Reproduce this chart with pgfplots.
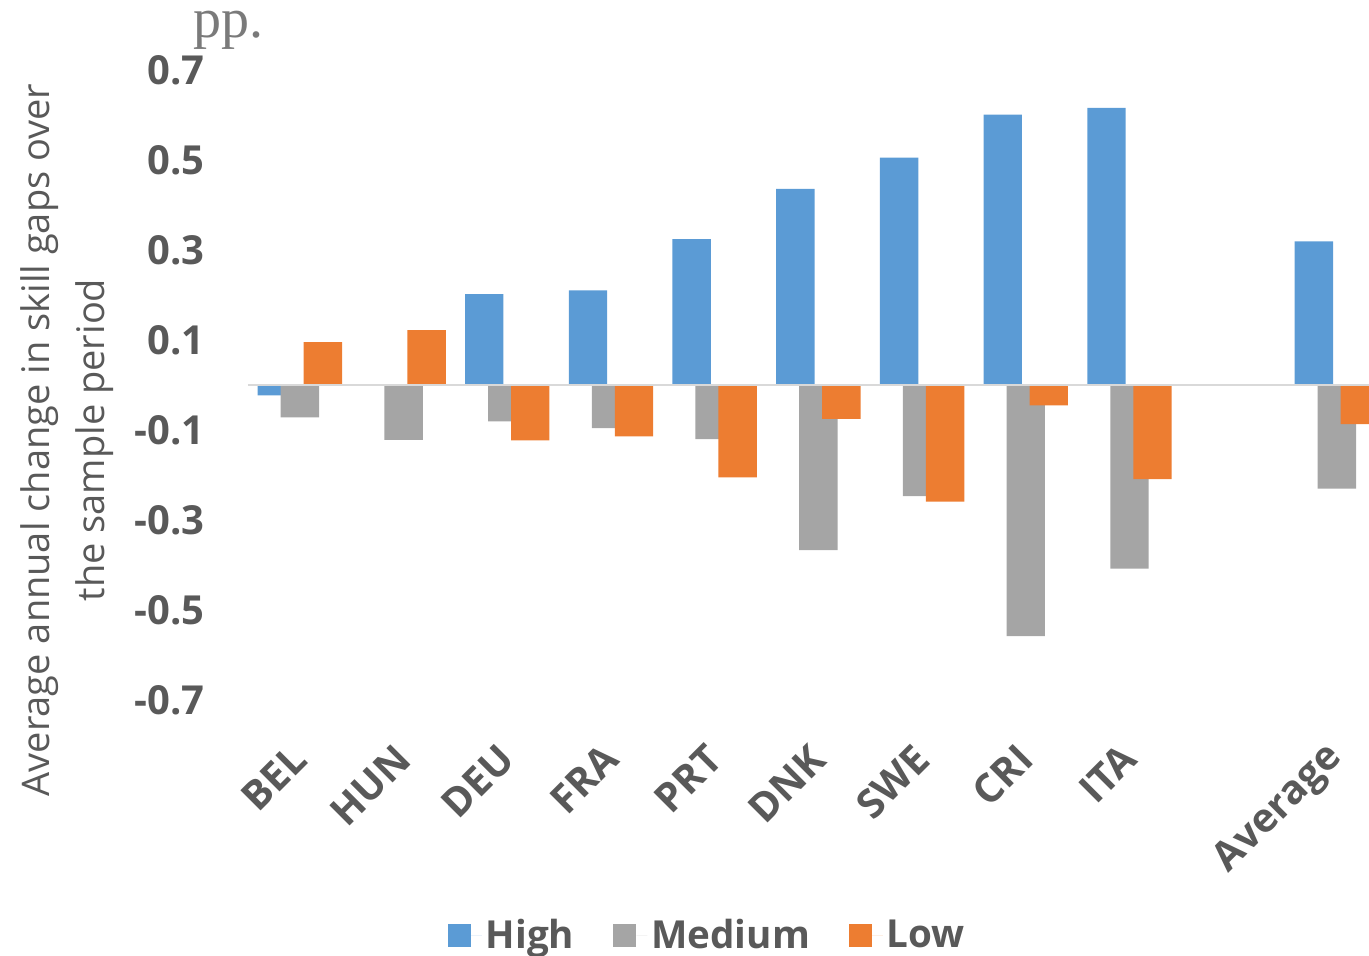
\documentclass[border=0pt]{standalone}
\usepackage{pgfplots}
\pgfplotsset{compat=1.18}
\usepackage{fontspec}
\setmainfont{Open Sans}
\newfontfamily\notefont{Liberation Serif}

\definecolor{cHigh}{HTML}{5B9BD5}
\definecolor{cMed}{HTML}{A5A5A5}
\definecolor{cLow}{HTML}{ED7D31}
\definecolor{txt}{HTML}{595959}
\definecolor{zline}{HTML}{D9D9D9}
\definecolor{notegray}{HTML}{7A7A7A}

% x positions: 0..8 countries, 10 = Average (slot 9 left empty)
\pgfplotstableread{
x   high    medium  low
0  -0.023  -0.072   0.095
1   0.000  -0.122   0.122
2   0.202  -0.081  -0.123
3   0.210  -0.096  -0.114
4   0.324  -0.120  -0.205
5   0.436  -0.367  -0.075
6   0.505  -0.247  -0.259
7   0.601  -0.558  -0.045
8   0.616  -0.408  -0.209
10  0.319  -0.230  -0.087
}\skillgaps

\begin{document}
\begin{tikzpicture}
\useasboundingbox (-124pt,-127.5pt) rectangle (560.5pt,350pt);
\clip (-124pt,-127.5pt) rectangle (560.5pt,350pt);
\begin{axis}[
  scale only axis,
  width=570.35pt, height=315pt,
  xmin=-0.5, xmax=10.5,
  ymin=-0.7, ymax=0.7,
  axis line style={draw=none},
  major tick length=0pt,
  axis on top,
  xtick={0,1,2,3,4,5,6,7,8,10},
  xticklabels={BEL,HUN,DEU,FRA,PRT,DNK,SWE,CRI,ITA,Average},
  ytick={-0.7,-0.5,-0.3,-0.1,0.1,0.3,0.5,0.7},
  yticklabels={-0.7,-0.5,-0.3,-0.1,0.1,0.3,0.5,0.7},
  extra y ticks={0},
  extra y tick labels={},
  extra y tick style={grid=major, major grid style={zline, line width=1.3pt}},
  tick label style={font=\fontsize{20}{22}\selectfont\bfseries, text=txt},
  yticklabel style={anchor=east, inner sep=0pt},
  yticklabel shift=21.5pt,
  xticklabel style={rotate=45, anchor=east, inner sep=0pt},
  xticklabel shift=26pt,
  ylabel={Average annual change in skill gaps over\\the sample period},
  ylabel style={align=center, font=\fontsize{19}{27.5}\selectfont, text=txt,
    at={(axis description cs:-0.1587,0.4127)}, anchor=center},
  legend style={at={(axis description cs:0.4036,-0.373)}, anchor=center,
    draw=none, fill=none, legend columns=-1,
    font=\fontsize{19.3}{21}\selectfont\bfseries, text=txt,
    /tikz/every even column/.append style={column sep=17.5pt}},
  legend image code/.code={%
    \fill[#1] (0pt,-5.75pt) rectangle (11.5pt,5.75pt);
    \path (11.5pt,0pt) -- (17pt,0pt);},
]
\addplot[ybar, bar width=19.2pt, bar shift=-11.5pt, fill=cHigh, draw=none]
  table[x=x, y=high] {\skillgaps};
\addplot[ybar, bar width=19.2pt, bar shift=0pt, fill=cMed, draw=none]
  table[x=x, y=medium] {\skillgaps};
\addplot[ybar, bar width=19.2pt, bar shift=11.5pt, fill=cLow, draw=none]
  table[x=x, y=low] {\skillgaps};
\legend{High, Medium, Low}
\end{axis}
\node[anchor=base west, inner sep=0pt, text=notegray,
      font=\notefont\fontsize{28}{30}\selectfont] at (-27.5pt,331pt) {pp.};
\end{tikzpicture}
\end{document}
